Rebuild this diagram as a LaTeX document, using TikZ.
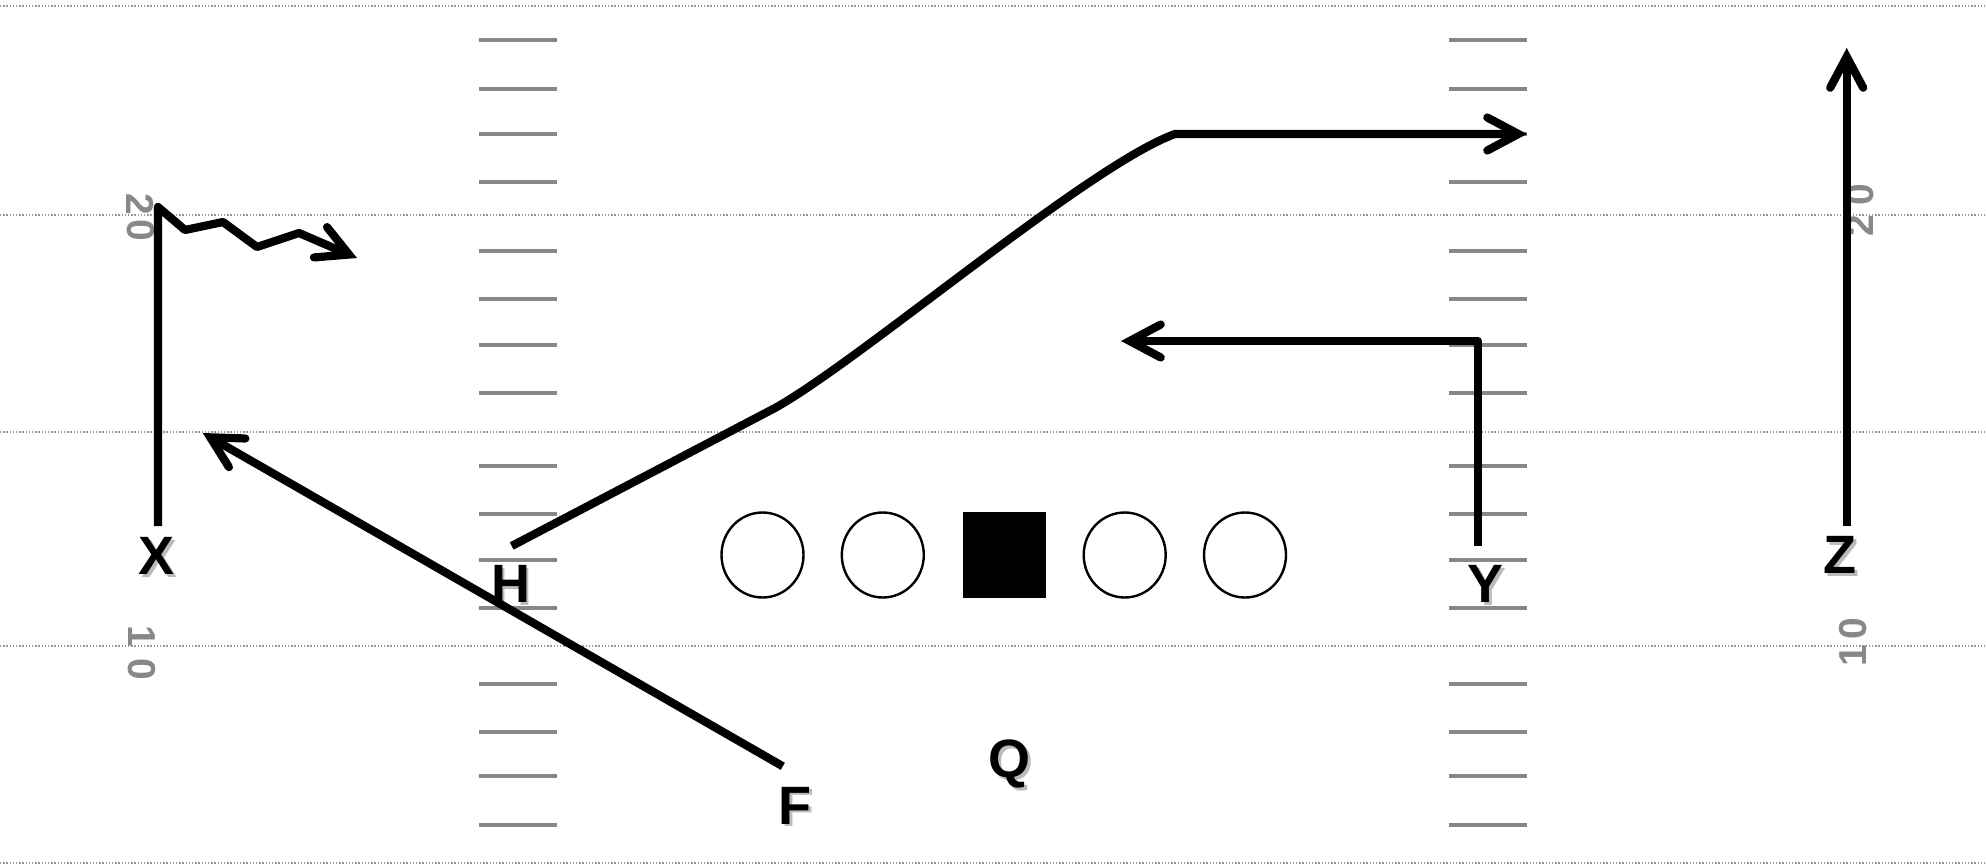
\documentclass[tikz,border=0pt]{standalone}
\usepackage{fontspec}
\setmainfont{Liberation Sans}
\usetikzlibrary{arrows.meta,shapes.geometric}
\definecolor{hashgray}{HTML}{888888}
\definecolor{dotgray}{HTML}{999999}
\definecolor{shadowgray}{HTML}{BBBBBB}
\newcommand\plyr[1]{\rlap{\smash{\kern1.4pt\raisebox{-1.4pt}{\textcolor{shadowgray}{#1}}}}#1}
\begin{document}
\begin{tikzpicture}[x=0.5pt,y=-0.5pt,
  yardline/.style={dotgray,line width=0.7pt,dash pattern=on 0.7pt off 0.9pt},
  hashmark/.style={hashgray,line width=2pt},
  route/.style={line width=4.1pt,line join=round,line cap=butt},
  routearrow/.style={route,-{Straight Barb[length=15.5pt,width=16.5pt,line cap=round,line join=miter]}},
  lineman/.style={ellipse,draw,line width=1.2pt,minimum width=41pt,minimum height=42.5pt,inner sep=0pt},
  centerman/.style={rectangle,fill=black,minimum width=41.8pt,minimum height=43pt,inner sep=0pt},
  player/.style={font=\bfseries\fontsize{27}{27}\selectfont,inner sep=0pt},
  yardnum/.style={font=\bfseries\fontsize{19.5}{19.5}\selectfont,text=hashgray,inner sep=0pt}
]
\useasboundingbox[fill=white] (0,0) rectangle (1986,866);

% yard lines
\foreach \yy in {6,215,432,646,863}
  \draw[yardline] (0,\yy) -- (1986,\yy);

% hash marks
\foreach \yy in {40.5,88.7,134.3,182.4,250.8,298.9,344.5,392.6,466.1,514.2,559.8,608,684,732,776.4,824.6}{
  \draw[hashmark] (479,\yy) -- (557,\yy);
  \draw[hashmark] (1449,\yy) -- (1527,\yy);
}

% yard numbers
\node[yardnum,rotate=-90] (n20a) at (140.5,204.5) {2};
\node[yardnum,rotate=-90] (n20b) at (140.5,230) {0};
\node[yardnum,rotate=-90] (n10a) at (141.5,636) {1};
\node[yardnum,rotate=-90] (n10b) at (141.5,669) {0};
\node[yardnum,rotate=90] (m20a) at (1860,195) {0};
\node[yardnum,rotate=90] (m20b) at (1860,226) {2};
\node[yardnum,rotate=90] (m10a) at (1853,629) {0};
\node[yardnum,rotate=90] (m10b) at (1853,656) {1};

% offensive line
\node[lineman] (LT) at (762.5,555) {};
\node[lineman] (LG) at (882.8,555) {};
\node[centerman] (C) at (1004.4,554.8) {};
\node[lineman] (RG) at (1124.7,555) {};
\node[lineman] (RT) at (1245,555) {};

% players
\node[player] (X) at (157,556) {\plyr{X}};
\node[player] (H) at (510.5,584) {\plyr{H}};
\node[player] (Y) at (1485.7,584) {\plyr{Y}};
\node[player] (Z) at (1840,555) {\plyr{Z}};
\node[player] (F) at (795.4,805.6) {\plyr{F}};
\node[player] (Q) at (1009.5,763.8) {\plyr{Q}};

% route points
\coordinate (Xs) at (158,526);
\coordinate (X1) at (158,207);
\coordinate (X2) at (185,230);
\coordinate (X3) at (223,222);
\coordinate (X4) at (257,247);
\coordinate (X5) at (299,233);
\coordinate (Xe) at (357,258);

\coordinate (Hs) at (511.7,546);
\coordinate (H1) at (775,408);
\coordinate (H2) at (1175,134);
\coordinate (He) at (1527,134);

\coordinate (Ys) at (1478,546);
\coordinate (Y1) at (1478,341);
\coordinate (Ye) at (1121,341);

\coordinate (Zs) at (1846.7,526);
\coordinate (Ze) at (1846.7,48);

\coordinate (Fs) at (782.8,766.3);
\coordinate (Fe) at (202.7,433);

% routes
\draw[routearrow] (Xs) -- (X1) -- (X2) -- (X3) -- (X4) -- (X5) -- (Xe);
\draw[routearrow] (Hs) -- (H1) .. controls (861,360) and (1089,165) .. (H2) -- (He);
\draw[routearrow] (Ys) -- (Y1) -- (Ye);
\draw[routearrow] (Zs) -- (Ze);
\draw[routearrow] (Fs) -- (Fe);
\end{tikzpicture}
\end{document}
